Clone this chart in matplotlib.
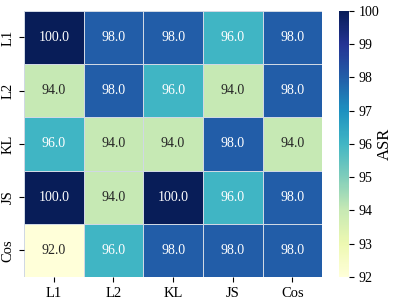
import numpy as np
import matplotlib
matplotlib.use("Agg")
import matplotlib.pyplot as plt
import seaborn as sns

labels = ["L1", "L2", "KL", "JS", "Cos"]
asr = np.array([
    [100.0, 98.0, 98.0, 96.0, 98.0],
    [94.0, 98.0, 96.0, 94.0, 98.0],
    [96.0, 94.0, 94.0, 98.0, 94.0],
    [100.0, 94.0, 100.0, 96.0, 98.0],
    [92.0, 96.0, 98.0, 98.0, 98.0],
])

plt.rcParams['font.family'] = 'serif'
plt.rcParams['font.serif'] = ['Liberation Serif', 'Times New Roman', 'DejaVu Serif']

fig = plt.figure(figsize=(3.97, 3.02), dpi=100)
ax = fig.add_axes([0.0605, 0.083, 0.751, 0.881])
cax = fig.add_axes([0.855, 0.083, 0.023, 0.881])

sns.heatmap(asr, ax=ax, cbar_ax=cax, cmap="YlGnBu", vmin=92, vmax=100,
            annot=True, fmt=".1f", annot_kws={"size": 10},
            linewidths=0.5, linecolor="#d0d8e4",
            xticklabels=labels, yticklabels=labels)

ax.tick_params(labelsize=10.5)
ax.set_yticklabels(labels, rotation=90, va="center")
cax.tick_params(labelsize=10)
cax.set_ylabel("ASR", fontsize=12, labelpad=-1.3)

fig.savefig("out.png", dpi=100)
